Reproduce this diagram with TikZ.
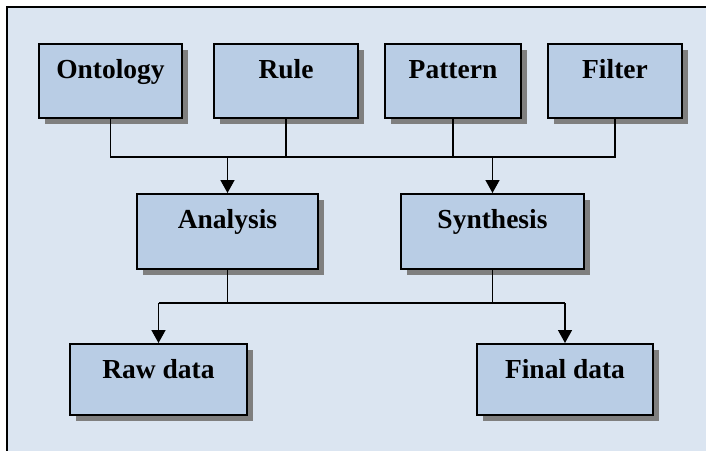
\documentclass[tikz,border=0pt]{standalone}
\usepackage{fontspec}
\setmainfont{Liberation Serif}
\usetikzlibrary{arrows.meta,shadows}
\definecolor{bgblue}{HTML}{DBE5F1}
\definecolor{boxblue}{HTML}{B9CDE5}
\definecolor{shadowgray}{HTML}{7F7F7F}
\begin{document}
\begin{tikzpicture}[x=1pt,y=-1pt,
  box/.style={draw=black, line width=2pt, fill=boxblue, rectangle, anchor=north west,
    inner sep=0pt, text height=12pt, text depth=18pt,
    font=\fontsize{27.5}{30}\selectfont\bfseries,
    drop shadow={shadow xshift=6pt, shadow yshift=-6pt, fill=shadowgray, opacity=1}},
  conn/.style={draw=black, line width=1.5pt},
  arr/.style={conn, -{Triangle[width=14pt,length=13pt]}}]
\useasboundingbox (0,0) rectangle (706,450);
\clip (0,0) rectangle (706,450);
\fill[white] (0,0) rectangle (706,450);
\draw[line width=2.6pt, fill=bgblue] (7,7) rectangle (730,470);
% top row
\node[box, minimum width=143pt, minimum height=74pt] (o) at (38,43) {Ontology};
\node[box, minimum width=144pt, minimum height=74pt] (r) at (213,43) {Rule};
\node[box, minimum width=136pt, minimum height=74pt] (p) at (384,43) {Pattern};
\node[box, minimum width=134pt, minimum height=74pt] (f) at (547,43) {Filter};
% middle row
\node[box, minimum width=181pt, minimum height=75pt] (an) at (136,193) {Analysis};
\node[box, minimum width=183pt, minimum height=75pt] (sy) at (400,193) {Synthesis};
% bottom row
\node[box, minimum width=177pt, minimum height=71pt, text height=14pt, text depth=17pt] (raw) at (69,343) {Raw data};
\node[box, minimum width=176pt, minimum height=71pt, text height=14pt, text depth=17pt] (fin) at (476,343) {Final data};
% buses
\coordinate (bus1) at (0,157);
\coordinate (bus2) at (0,303);
\draw[conn] (o.south) -- (o.south |- bus1) -- (f.south |- bus1) -- (f.south);
\draw[conn] (r.south) -- (r.south |- bus1);
\draw[conn] (p.south) -- (p.south |- bus1);
\draw[arr] (an.north |- bus1) -- (an.north);
\draw[arr] (sy.north |- bus1) -- (sy.north);
\draw[conn] (an.south) -- (an.south |- bus2);
\draw[conn] (sy.south) -- (sy.south |- bus2);
\draw[conn] (raw.north |- bus2) -- (fin.north |- bus2);
\draw[arr] (raw.north |- bus2) -- (raw.north);
\draw[arr] (fin.north |- bus2) -- (fin.north);
\end{tikzpicture}
\end{document}
